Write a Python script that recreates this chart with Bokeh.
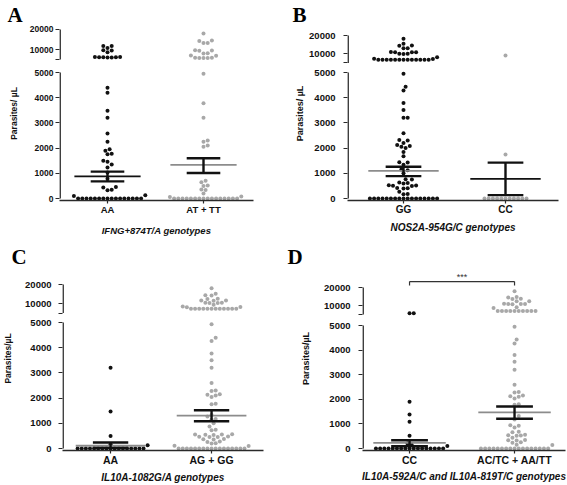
import numpy as np
from bokeh.plotting import figure
from bokeh.layouts import column, row
from bokeh.models import FixedTicker, Label, Range1d
from bokeh.embed import file_html
from bokeh.resources import INLINE

# ---------------- data ----------------
y_label_ab = "Parasites/ µL"
y_label_cd = "Parasites/µL"

# Panel A
a_categories = ["AA", "AT + TT"]
a_group1 = [11800, 11700, 10700, 9600, 9500, 8600, 6200, 6200, 6100, 6100, 6100, 6000, 6000,
            4400, 4200, 3480, 3200, 2580, 2250, 1950, 1900, 1780, 1760, 1500, 1460, 1350, 1230,
            1030, 780, 460, 440, 350, 330, 130, 100,
            0, 0, 0, 0, 0, 0, 0, 0, 0, 0, 0, 0, 0, 0, 0, 0]
a_group2 = [18000, 14500, 14200, 13300, 13200, 9600, 9500, 9400, 8100, 8000, 7000, 6900,
            5900, 5900, 5800, 5800, 5800,
            4950, 3780, 3200, 2300, 2250, 2100, 2050, 700, 650, 520, 500, 360, 340, 200, 80, 60,
            0, 0, 0, 0, 0, 0, 0, 0, 0, 0, 0, 0, 0, 0, 0, 0]
a_means = [875, 1335]
a_sem_low = [680, 1012]
a_sem_high = [1065, 1600]
a_xtitle = "IFNG+874T/A genotypes"

# Panel B
b_categories = ["GG", "CC"]
b_group1 = [18200, 15500, 14600, 14400, 13100, 13000, 11000, 10900, 10900, 10800, 10100, 10000,
            9900, 8100, 7300, 7200,
            6700, 6700, 6700, 6700, 6700, 6700, 6700, 6700, 6700, 6700, 6700, 6700, 6700,
            4950, 4430, 4290, 3790, 3510, 3200, 3200, 2590, 2320, 2300, 2200, 2120, 2080, 2050,
            2000, 1850, 1680, 1440, 1430, 1340, 1150, 1120, 1000, 760, 750, 640, 620, 600, 530,
            520, 510, 500, 420, 410, 400, 270, 180, 170,
            0, 0, 0, 0, 0, 0, 0, 0, 0, 0, 0, 0, 0, 0, 0, 0, 0]
b_group2 = [9100, 1750, 0, 0, 0, 0, 0, 0, 0, 0, 0, 0, 0]
b_means = [1094, 779]
b_sem_low = [889, 135]
b_sem_high = [1258, 1422]
b_xtitle = "NOS2A-954G/C genotypes"

# Panel C
c_categories = ["AA", "AG + GG"]
c_group1 = [3200, 1470, 500, 170, 130,
            0, 0, 0, 0, 0, 0, 0, 0, 0, 0, 0, 0, 0, 0, 0, 0, 0]
c_group2 = [18000, 15100, 14300, 14200, 12500, 12400, 11600, 11600, 11500, 10400, 10400, 10300,
            10300, 9300, 8400, 8100, 8000,
            7200, 7200, 7200, 7200, 7200, 7200, 7200, 7200, 7200, 7200, 7200, 7200,
            4930, 4400, 4270, 3770, 3500, 3200, 2600, 2300, 2280, 2150, 2130, 2100, 2040, 1780,
            1760, 1330, 1270, 1170, 1150, 1000, 870, 740, 720, 570, 560, 560, 550, 540, 480, 470,
            460, 460, 380, 370, 360, 280, 260, 210, 200, 110, 100,
            0, 0, 0, 0, 0, 0, 0, 0, 0, 0, 0, 0, 0, 0, 0, 0, 0]
c_means = [110, 1307]
c_sem_low = [20, 1080]
c_sem_high = [240, 1520]
c_xtitle = "IL10A-1082G/A genotypes"

# Panel D
d_categories = ["CC", "AC/TC + AA/TT"]
d_group1 = [5700, 5700, 1900, 1380, 1090, 520, 200, 150, 100,
            0, 0, 0, 0, 0, 0, 0, 0, 0, 0, 0, 0, 0, 0, 0, 0, 0]
d_group2 = [17900, 14700, 14500, 13800, 13600, 12400, 12300, 11000, 10900, 10900, 10800, 10700,
            9100, 8600,
            6900, 6900, 6900, 6900, 6900, 6900, 6900, 6900, 6900, 6900,
            4950, 4430, 4270, 3800, 3530, 3200, 2590, 2300, 2280, 2150, 2120, 2100, 2030, 1800,
            1780, 1320, 1180, 950, 930, 850, 680, 660, 560, 540, 530, 520, 440, 350, 340, 330,
            250, 230, 150, 140,
            0, 0, 0, 0, 0, 0, 0, 0, 0, 0, 0, 0, 0, 0, 0, 0, 0]
d_means = [230, 1465]
d_sem_low = [93, 1210]
d_sem_high = [335, 1706]
d_xtitle = "IL10A-592A/C and IL10A-819T/C genotypes"
d_significance = "***"
d_bracket_value = 23300
d_bracket_end_value = 21100
d_stars_value = 26100

lower_ticks = [0, 1000, 2000, 3000, 4000, 5000]
upper_tick_labels = ["10000", "20000"]
upper_tick_values = [10000, 20000]

# ---------------- styling ----------------
BLACK = "#111111"
GREY = "#a8a8a8"
MEAN_GREY = "#8c8c8c"
AXIS = "#2a2a2a"
SANS = "Liberation Sans"


def swarm(tvals, s, pxu, d=4.2):
    ypx = np.asarray(tvals, float) * s
    order = np.argsort(ypx, kind="stable")
    steps = [0.0]
    for k in range(1, 120):
        steps += [k * d / 2, -k * d / 2]
    px, py = [], []
    off = np.zeros(len(ypx))
    for i in order:
        chosen = 0.0
        for c in steps:
            if all((c - x) ** 2 + (ypx[i] - y) ** 2 >= (d * 0.97) ** 2 for x, y in zip(px, py)):
                chosen = c
                break
        px.append(chosen)
        py.append(ypx[i])
        off[i] = chosen / pxu
    return off


panels = [
    dict(letter="A", cats=a_categories, groups=[a_group1, a_group2], colors=[BLACK, GREY],
         mean_colors=[BLACK, MEAN_GREY], means=a_means, lo=a_sem_low, hi=a_sem_high,
         ylabel=y_label_ab, xtitle=a_xtitle,
         W=283, H=240, ml=59, mr=30, mt=26, mb=40, s=0.0252, ys=-79, G=516, r=0.0794,
         xs=0.5, pxu=96, tick_fs=8.5, cat_fs=9.5, ylab_fs=8.5, tick_sd=2, lab_sd=8,
         letter_off=-52, letter_sd=0, title_fs=9.5, title_sd=7),
    dict(letter="B", cats=b_categories, groups=[b_group1, b_group2], colors=[BLACK, GREY],
         mean_colors=[MEAN_GREY, BLACK], means=b_means, lo=b_sem_low, hi=b_sem_high,
         ylabel=y_label_ab, xtitle=b_xtitle,
         W=284, H=240, ml=64, mr=9, mt=26, mb=40, s=0.0252, ys=-79, G=379, r=0.0726,
         xs=0.451, pxu=102, tick_fs=9.5, cat_fs=10, ylab_fs=9, tick_sd=8, lab_sd=1,
         letter_off=-55, letter_sd=-1, title_fs=10, title_sd=4),
    dict(letter="C", cats=c_categories, groups=[c_group1, c_group2], colors=[BLACK, GREY],
         mean_colors=[MEAN_GREY, MEAN_GREY], means=c_means, lo=c_sem_low, hi=c_sem_high,
         ylabel=y_label_cd, xtitle=c_xtitle,
         W=283, H=245, ml=58, mr=20, mt=26, mb=35, s=0.0252, ys=-79, G=377, r=0.0754,
         xs=0.524, pxu=103, tick_fs=9.5, cat_fs=10.5, ylab_fs=8.5, tick_sd=7, lab_sd=9,
         letter_off=-51, letter_sd=-4, title_fs=10, title_sd=3),
    dict(letter="D", cats=d_categories, groups=[d_group1, d_group2], colors=[BLACK, GREY],
         mean_colors=[MEAN_GREY, MEAN_GREY], means=d_means, lo=d_sem_low, hi=d_sem_high,
         ylabel=y_label_cd, xtitle=d_xtitle,
         W=284, H=245, ml=79, mr=2, mt=26, mb=35, s=0.0246, ys=-81, G=447, r=0.0732,
         xs=0.552, pxu=105, tick_fs=9.5, cat_fs=10.5, ylab_fs=9, tick_sd=8, lab_sd=10,
         letter_off=-75, letter_sd=-5, title_fs=10, title_sd=2),
]


def build(cfg):
    W, H, ml, mr, mt, mb = cfg["W"], cfg["H"], cfg["ml"], cfg["mr"], cfg["mt"], cfg["mb"]
    s, ys, G, r, xs, pxu = cfg["s"], cfg["ys"], cfg["G"], cfg["r"], cfg["xs"], cfg["pxu"]
    fh, fw = H - mt - mb, W - ml - mr
    ye, xe = ys + fh / s, xs + fw / pxu

    def t(v):
        return v if v <= 5000 else 5000 + G + (v - 5000) * r

    p = figure(width=W, height=H, x_range=Range1d(xs, xe), y_range=Range1d(ys, ye),
               output_backend="svg", toolbar_location=None, title=cfg["letter"],
               min_border_left=ml, min_border_right=mr, min_border_top=mt, min_border_bottom=mb,
               outline_line_color=None, background_fill_color="white", border_fill_color="white")
    p.xgrid.visible = False
    p.ygrid.visible = False

    # panel letter as title
    p.title.align = "left"
    p.title.offset = cfg["letter_off"]
    p.title.standoff = cfg["letter_sd"]
    p.title.text_font = "Liberation Serif"
    p.title.text_font_style = "bold"
    p.title.text_font_size = "21px"
    p.title.text_color = "#000000"

    # x axis
    p.xaxis.ticker = FixedTicker(ticks=[1, 2])
    p.xaxis.major_label_overrides = {1: cfg["cats"][0], 2: cfg["cats"][1]}
    p.xaxis.axis_line_color = AXIS
    p.xaxis.axis_line_width = 1.4
    p.xaxis.major_tick_line_color = AXIS
    p.xaxis.major_tick_line_width = 1.2
    p.xaxis.major_tick_out = 3
    p.xaxis.major_tick_in = 0
    p.xaxis.minor_tick_line_color = None
    p.xaxis.major_label_standoff = 0
    p.xaxis.major_label_text_font = SANS
    p.xaxis.major_label_text_font_style = "bold"
    p.xaxis.major_label_text_font_size = f"{cfg['cat_fs']}px"
    p.xaxis.major_label_text_color = BLACK
    p.xaxis.axis_label = cfg["xtitle"]
    p.xaxis.axis_label_text_font = SANS
    p.xaxis.axis_label_text_font_style = "bold italic"
    p.xaxis.axis_label_text_font_size = f"{cfg['title_fs']}px"
    p.xaxis.axis_label_text_color = BLACK
    p.xaxis.axis_label_standoff = cfg["title_sd"]

    # broken y axis
    ticks = list(lower_ticks) + [int(5000 + G)] + [int(round(t(v))) for v in upper_tick_values]
    labels = [str(v) for v in lower_ticks] + [""] + list(upper_tick_labels)
    p.yaxis.ticker = FixedTicker(ticks=ticks)
    p.yaxis.major_label_overrides = {k: v for k, v in zip(ticks, labels)}
    p.yaxis.axis_line_color = None
    p.yaxis.major_tick_line_color = AXIS
    p.yaxis.major_tick_line_width = 1.2
    p.yaxis.major_tick_out = 4
    p.yaxis.major_tick_in = 0
    p.yaxis.minor_tick_line_color = None
    p.yaxis.major_label_standoff = cfg["tick_sd"]
    p.yaxis.major_label_text_font = SANS
    p.yaxis.major_label_text_font_style = "bold"
    p.yaxis.major_label_text_font_size = f"{cfg['tick_fs']}px"
    p.yaxis.major_label_text_color = BLACK
    p.yaxis.axis_label = cfg["ylabel"]
    p.yaxis.axis_label_text_font = SANS
    p.yaxis.axis_label_text_font_style = "bold"
    p.yaxis.axis_label_text_font_size = f"{cfg['ylab_fs']}px"
    p.yaxis.axis_label_text_color = BLACK
    p.yaxis.axis_label_standoff = cfg["lab_sd"]

    ax = xs + 0.6 / pxu
    p.segment(x0=[ax, ax], x1=[ax, ax], y0=[0, 5000 + G], y1=[5000, t(20000)],
              line_color=AXIS, line_width=1.6)

    # dots
    for gi, (vals, col) in enumerate(zip(cfg["groups"], cfg["colors"])):
        tv = [t(v) for v in vals]
        off = swarm(tv, s, pxu)
        xpos = (gi + 1) + off
        p.scatter(x=xpos, y=tv, size=4, fill_color=col, line_color=None, marker="circle")

    # mean and SEM
    for gi in range(2):
        c = gi + 1
        m, lo, hi = cfg["means"][gi], cfg["lo"][gi], cfg["hi"][gi]
        p.segment(x0=[c - 0.345], x1=[c + 0.345], y0=[m], y1=[m],
                  line_color=cfg["mean_colors"][gi], line_width=1.8)
        p.segment(x0=[c, c - 0.175, c - 0.175], x1=[c, c + 0.175, c + 0.175],
                  y0=[lo, lo, hi], y1=[hi, lo, hi], line_color=BLACK, line_width=2.4)

    if cfg["letter"] == "D":
        b, e = t(d_bracket_value), t(d_bracket_end_value)
        p.segment(x0=[1, 1, 2], x1=[2, 1, 2], y0=[b, b, b], y1=[b, e, e],
                  line_color="#333333", line_width=1.2)
        p.add_layout(Label(x=1.5, y=t(d_stars_value), text=d_significance, text_font=SANS,
                           text_font_size="9px", text_align="center", text_baseline="alphabetic",
                           text_color="#333333"))
    return p


figs = [build(c) for c in panels]
layout = column(row(figs[0], figs[1]), row(figs[2], figs[3]))

html = file_html(layout, INLINE, title="Parasites by genotype")
with open("out.html", "w") as f:
    f.write(html)
